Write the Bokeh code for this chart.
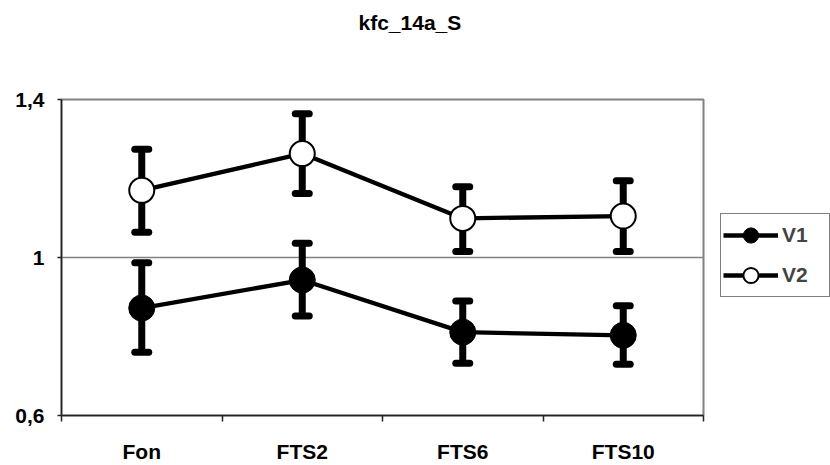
from bokeh.plotting import figure
from bokeh.layouts import row
from bokeh.models import (Range1d, FixedTicker, CustomJSTickFormatter, Whisker, TeeHead,
                          ColumnDataSource, Legend, LegendItem, Title)
from bokeh.embed import file_html
from bokeh.resources import INLINE

# ---- data ----
categories = ["Fon", "FTS2", "FTS6", "FTS10"]
v1 = [0.872, 0.943, 0.811, 0.803]
v1_upper = [0.987, 1.036, 0.890, 0.878]
v1_lower = [0.760, 0.852, 0.732, 0.730]
v2 = [1.170, 1.263, 1.099, 1.105]
v2_upper = [1.274, 1.364, 1.179, 1.194]
v2_lower = [1.064, 1.162, 1.015, 1.015]
y_ticks = [0.6, 1.0, 1.4]
series_names = ["V1", "V2"]
title_text = "kfc_14a_S"

FONT = "Liberation Sans"
FS = "21px"
xs = [i + 0.5 for i in range(len(categories))]
bounds = list(range(len(categories) + 1))

p = figure(width=720, height=465, output_backend="svg", toolbar_location=None,
           x_range=Range1d(0, len(categories)), y_range=Range1d(y_ticks[0], y_ticks[-1]),
           min_border_left=61, min_border_right=17, min_border_top=99, min_border_bottom=49)
p.background_fill_color = "white"
p.border_fill_color = "white"
p.outline_line_color = "#808080"
p.outline_line_width = 2

# invisible spacer between the title and the plot area
p.add_layout(Title(text=" ", text_font_size="1px", standoff=63), "above")

# title
p.title.text = title_text
p.title.text_font = FONT
p.title.text_font_size = FS
p.title.text_font_style = "bold"
p.title.text_color = "black"
p.title.align = "left"
p.title.offset = 297
p.title.vertical_align = "bottom"
p.title.standoff = 0

# axes
p.xaxis.ticker = FixedTicker(ticks=xs, minor_ticks=bounds)
p.xaxis.formatter = CustomJSTickFormatter(args=dict(cats=categories),
                                          code="return cats[Math.floor(tick)];")
p.xaxis.major_tick_out = 0
p.xaxis.major_tick_in = 0
p.xaxis.minor_tick_out = 6
p.xaxis.minor_tick_in = 0
p.xaxis.major_label_standoff = 18
p.yaxis.ticker = FixedTicker(ticks=y_ticks)
p.yaxis.formatter = CustomJSTickFormatter(
    code="return (Math.round(tick*10)/10).toString().replace('.', ',');")
p.yaxis.major_tick_out = 4
p.yaxis.major_tick_in = 0
p.yaxis.minor_tick_out = 0
p.yaxis.minor_tick_in = 0
p.yaxis.major_label_standoff = 13
for ax in (p.xaxis, p.yaxis):
    ax.axis_line_color = "#222222"
    ax.axis_line_width = 1.5
    ax.major_tick_line_color = "#222222"
    ax.minor_tick_line_color = "#222222"
    ax.major_tick_line_width = 1.5
    ax.minor_tick_line_width = 1.5
    ax.major_label_text_font = FONT
    ax.major_label_text_font_size = FS
    ax.major_label_text_font_style = "bold"
    ax.major_label_text_color = "black"

p.xgrid.visible = False
p.ygrid.ticker = FixedTicker(ticks=y_ticks)
p.ygrid.grid_line_color = "#808080"
p.ygrid.grid_line_width = 1.5

src1 = ColumnDataSource(dict(x=xs, y=v1, up=v1_upper, lo=v1_lower))
src2 = ColumnDataSource(dict(x=xs, y=v2, up=v2_upper, lo=v2_lower))

for src in (src1, src2):
    w = Whisker(base="x", upper="up", lower="lo", source=src,
                line_width=7, line_color="black",
                upper_head=TeeHead(size=14, line_width=7, line_color="black", line_cap="round"),
                lower_head=TeeHead(size=14, line_width=7, line_color="black", line_cap="round"))
    p.add_layout(w)

p.line("x", "y", source=src1, line_width=4.3, line_color="black")
p.line("x", "y", source=src2, line_width=4.3, line_color="black")
p.scatter("x", "y", source=src1, size=26, fill_color="black", line_color="black", line_width=1)
p.scatter("x", "y", source=src2, size=25, fill_color="white", line_color="black", line_width=2)

# ---- legend panel (separate figure to the right; its data range is out of view) ----
lf = figure(width=110, height=465, output_backend="svg", toolbar_location=None,
            x_range=Range1d(-2, -1), y_range=Range1d(-2, -1),
            x_axis_location=None, y_axis_location=None,
            min_border=0, min_border_left=0, min_border_right=0,
            min_border_top=0, min_border_bottom=0)
lf.outline_line_color = None
lf.grid.visible = False
lf.background_fill_color = "white"
lf.border_fill_color = "white"
ll1 = lf.line("x", "y", source=src1, line_width=4.3, line_color="black")
lm1 = lf.scatter("x", "y", source=src1, size=26, fill_color="black", line_color="black", line_width=1)
ll2 = lf.line("x", "y", source=src2, line_width=4.3, line_color="black")
lm2 = lf.scatter("x", "y", source=src2, size=25, fill_color="white", line_color="black", line_width=2)

legend = Legend(items=[LegendItem(label=series_names[0], renderers=[ll1, lm1]),
                       LegendItem(label=series_names[1], renderers=[ll2, lm2])],
                location=(0, 118))
legend.label_text_font = FONT
legend.label_text_font_size = FS
legend.label_text_font_style = "bold"
legend.glyph_width = 55
legend.glyph_height = 38
legend.spacing = 2
legend.padding = 2
legend.margin = 0
legend.label_standoff = 4
legend.label_width = 45
legend.border_line_color = "black"
legend.border_line_width = 1
legend.background_fill_color = "white"
legend.background_fill_alpha = 1
lf.add_layout(legend, "center")

layout = row(p, lf, spacing=0)
open("out.html", "w").write(file_html(layout, INLINE))
